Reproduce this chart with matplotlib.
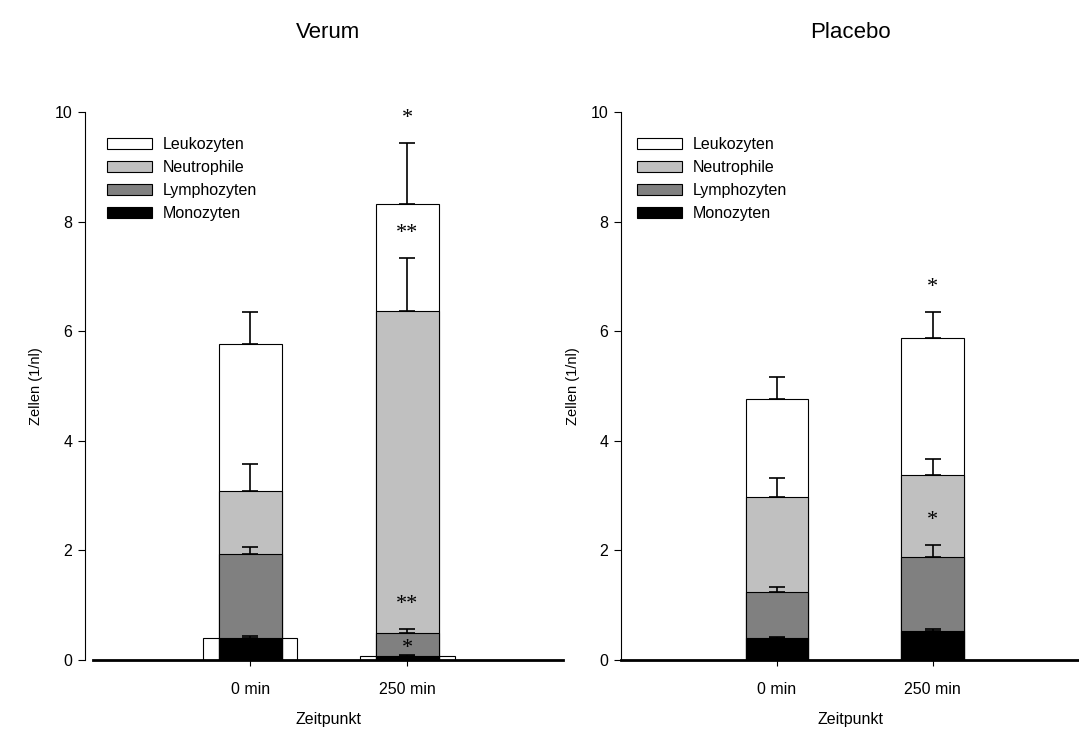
import matplotlib.pyplot as plt
import numpy as np

plt.rcParams['font.family'] = ['Liberation Sans', 'DejaVu Sans']

zeitpunkte = ['0 min', '250 min']
reihen = ['Leukozyten', 'Neutrophile', 'Lymphozyten', 'Monozyten']
farben = ['white', '#c0c0c0', '#808080', 'black']

# Mittelwerte und obere Fehler (SEM) je Gruppe
verum_mw = {'Leukozyten': [5.76, 8.32], 'Neutrophile': [3.09, 6.36],
            'Lymphozyten': [1.94, 0.50], 'Monozyten': [0.40, 0.07]}
verum_err = {'Leukozyten': [0.59, 1.11], 'Neutrophile': [0.49, 0.98],
             'Lymphozyten': [0.13, 0.07], 'Monozyten': [0.04, 0.02]}
verum_sig = {'Leukozyten': ['', '*'], 'Neutrophile': ['', '**'],
             'Lymphozyten': ['', '**'], 'Monozyten': ['', '*']}

placebo_mw = {'Leukozyten': [4.77, 5.88], 'Neutrophile': [2.97, 3.38],
              'Lymphozyten': [1.24, 1.88], 'Monozyten': [0.40, 0.53]}
placebo_err = {'Leukozyten': [0.39, 0.47], 'Neutrophile': [0.35, 0.29],
               'Lymphozyten': [0.09, 0.22], 'Monozyten': [0.02, 0.03]}
placebo_sig = {'Leukozyten': ['', '*'], 'Neutrophile': ['', ''],
               'Lymphozyten': ['', '*'], 'Monozyten': ['', '']}

fig = plt.figure(figsize=(10.79, 7.36), dpi=100)
ax1 = fig.add_axes([93/1079, 76/736, 470/1079, 548/736])
ax2 = fig.add_axes([621/1079, 76/736, 458/1079, 548/736])

x = np.arange(len(zeitpunkte))


def panel(ax, mw, err, sig, titel, breite_box, xmax, leg_x):
    if breite_box:
        # breiter Rahmen hinter den Monozyten (wie im Original)
        ax.bar(x, mw['Monozyten'], width=0.6, color='white', edgecolor='black',
               linewidth=0.8, zorder=1)
    for i, r in enumerate(reihen):
        ax.bar(x, mw[r], width=0.4, color=farben[i], edgecolor='black',
               linewidth=0.8, label=r, zorder=2 + i)
        ax.errorbar(x, mw[r], yerr=[np.zeros(2), err[r]], fmt='none',
                    ecolor='black', elinewidth=1.2, capsize=6, capthick=1.2,
                    zorder=2 + i)
    # Signifikanzsterne ueber dem Fehlerbalken, aber unter dem naechsten Balken
    for i, r in enumerate(reihen):
        for j in range(len(x)):
            if sig[r][j]:
                y = mw[r][j] + err[r][j] + 0.45
                if i > 0:
                    y = min(y, mw[reihen[i - 1]][j] - 0.29)
                ax.text(x[j], y, sig[r][j], ha='center', va='center',
                        family='Liberation Serif', fontsize=16, zorder=10)
    ax.set_xlim(-1, xmax)
    ax.set_ylim(0, 10)
    ax.set_yticks(np.arange(0, 11, 2))
    ax.set_xticks(x)
    ax.set_xticklabels(zeitpunkte, fontsize=11.5)
    ax.tick_params(axis='y', direction='out', length=5, width=0.8, labelsize=11.5, pad=4)
    ax.tick_params(axis='x', direction='out', length=4.5, width=0.8, pad=11)
    ax.spines['top'].set_visible(False)
    ax.spines['right'].set_visible(False)
    ax.spines['bottom'].set_linewidth(2)
    ax.spines['left'].set_linewidth(0.8)
    ax.set_ylabel('Zellen (1/nl)', fontsize=10.5, labelpad=8)
    ax.set_xlabel('Zeitpunkt', fontsize=11.5, labelpad=11)
    ax.set_title(titel, fontsize=16, pad=53)
    ax.legend(loc='upper left', bbox_to_anchor=(leg_x, 0.954), frameon=False,
              fontsize=11.5, handlelength=2.8, handleheight=0.75,
              labelspacing=0.5, handletextpad=0.7, borderaxespad=0, borderpad=0)


panel(ax1, verum_mw, verum_err, verum_sig, 'Verum', True, 1.99, 0.03)
ax1.spines['left'].set_position(('outward', 6))
panel(ax2, placebo_mw, placebo_err, placebo_sig, 'Placebo', False, 1.94, 0.035)

fig.savefig('out.png', dpi=100)
